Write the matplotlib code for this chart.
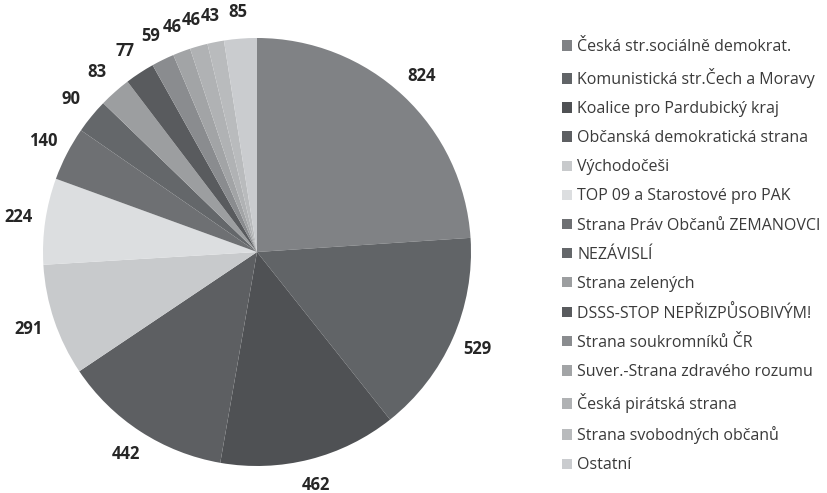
import numpy as np
import matplotlib.pyplot as plt

plt.rcParams['font.family'] = ['Open Sans', 'DejaVu Sans']

parties = [
    "Česká str.sociálně demokrat.",
    "Komunistická str.Čech a Moravy",
    "Koalice pro Pardubický kraj",
    "Občanská demokratická strana",
    "Východočeši",
    "TOP 09 a Starostové pro PAK",
    "Strana Práv Občanů ZEMANOVCI",
    "NEZÁVISLÍ",
    "Strana zelených",
    "DSSS-STOP NEPŘIZPŮSOBIVÝM!",
    "Strana soukromníků ČR",
    "Suver.-Strana zdravého rozumu",
    "Česká pirátská strana",
    "Strana svobodných občanů",
    "Ostatní",
]
votes = [824, 529, 462, 442, 291, 224, 140, 90, 83, 77, 59, 46, 46, 43, 85]
colors = [
    "#808285", "#616467", "#4f5154", "#5d5f62", "#c8cacc",
    "#dcdee0", "#6e7073", "#64676a", "#9c9ea0", "#595b5e",
    "#8a8c8f", "#a2a4a6", "#b0b2b4", "#b9bbbd", "#cacccf",
]

W, H = 827, 493
fig = plt.figure(figsize=(W / 100, H / 100), dpi=100)

# pie centre and radius in pixels
cx, cy, r = 257, 252, 214
ax = fig.add_axes([(cx - r) / W, (H - cy - r) / H, 2 * r / W, 2 * r / H])

wedges, _ = ax.pie(
    votes, colors=colors, startangle=90, counterclock=False,
    wedgeprops=dict(linewidth=0),
)

# value labels centred just outside each wedge
for w, v in zip(wedges, votes):
    ang = np.deg2rad((w.theta1 + w.theta2) / 2)
    ax.text(1.125 * np.cos(ang), 1.125 * np.sin(ang), str(v),
            ha="center", va="center", fontsize=12, fontweight="bold",
            color="#262626")

ax.set_xlim(-1, 1)
ax.set_ylim(-1, 1)
ax.set_aspect("equal")
ax.axis("off")

fig.legend(
    wedges, parties,
    loc="upper left", bbox_to_anchor=(562 / W, 1 - 39 / H),
    frameon=False, fontsize=11.5, labelcolor="#3a3a3a",
    handlelength=0.62, handleheight=0.62, handletextpad=0.35,
    labelspacing=0.82, borderpad=0, borderaxespad=0,
)

fig.savefig("out.png", dpi=100)
